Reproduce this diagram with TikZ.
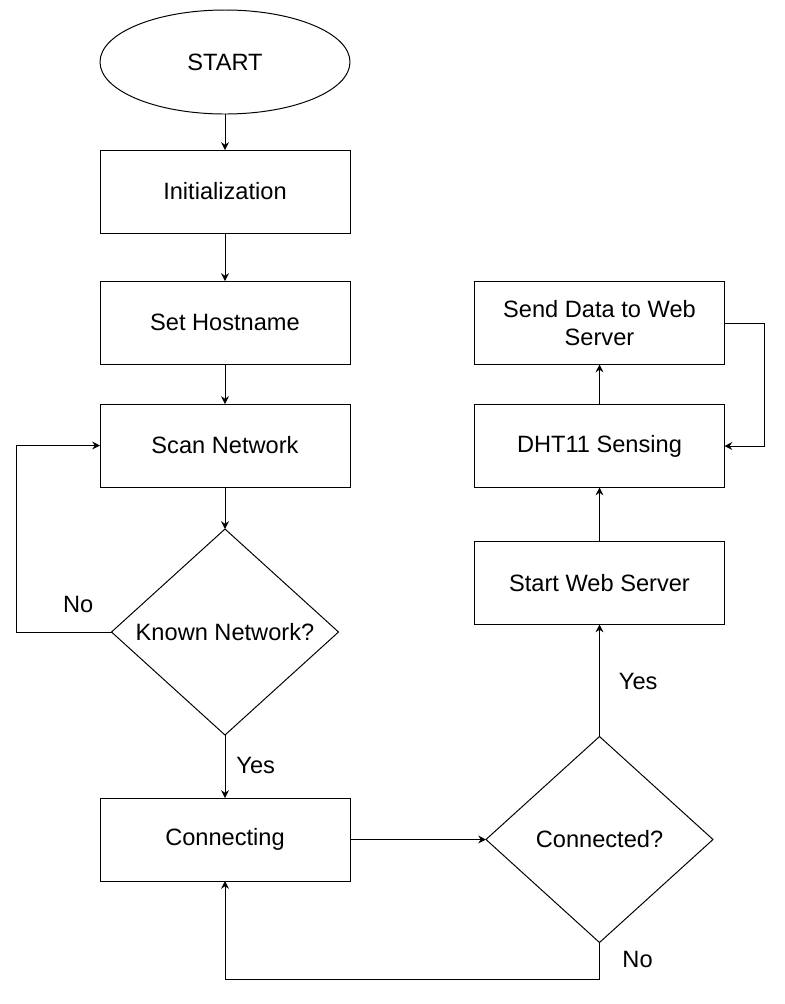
\documentclass[tikz,border=0pt]{standalone}
\usepackage{fontspec}
\setmainfont{Liberation Sans}
\usetikzlibrary{arrows.meta}
\usetikzlibrary{positioning}
\usetikzlibrary{shapes.geometric}

\begin{document}
\begin{tikzpicture}
\useasboundingbox (0,0) rectangle (19.625,-25.1);
\begin{scope}[every node/.style={draw,line width=0.7pt,align=center,inner sep=0pt,outer sep=0pt,
                                 font=\fontsize{16.8pt}{20pt}\selectfont},
              box/.style={rectangle,minimum width=6.25cm,minimum height=2.075cm},
              decision/.style={diamond,minimum width=5.675cm,minimum height=5.15cm}]
    \node[ellipse,minimum width=6.25cm,minimum height=2.6cm] (start) at (5.625,-1.55) {START};
    \node[box,below=0.9 of {start}]      (init)      {Initialization};
    \node[box,below=1.2 of {init}]       (host)      {Set Hostname};
    \node[box,below=1.0 of {host}]       (scan)      {Scan Network};
    \node[decision,below=1.05 of {scan}] (known)     {Known Network?};
    \node[box,below=1.575 of {known}]    (connect)   {Connecting};
    \node[decision,right=3.4 of {connect}] (connected) {Connected?};
    \node[box,above=2.8 of {connected}]  (webserver) {Start Web Server};
    \node[box,above=1.35 of {webserver}] (dht)       {DHT11 Sensing};
    \node[box,above=1.0 of {dht}]        (send)      {Send Data to Web\\Server};
\end{scope}

\begin{scope}[>={Stealth[length=5.5pt,width=5.5pt]},
              line width=0.7pt,
              every node/.style={inner sep=0pt,font=\fontsize{16.8pt}{20pt}\selectfont},
              every edge/.style={draw,line width=0.7pt}]
    \path [->] (start)     edge (init);
    \path [->] (init)      edge (host);
    \path [->] (host)      edge (scan);
    \path [->] (scan)      edge (known);
    \path [->] (known)     edge node[pos=0.476,right=7.8pt] {Yes} (connect);
    \path [->] (connect)   edge (connected);
    \path [->] (connected) edge node[pos=0.49,right=13.5pt] {Yes} (webserver);
    \path [->] (webserver) edge (dht);
    \path [->] (dht)       edge (send);
    \draw [->] (known.west) -- node[pos=0.35,above=13.5pt] {No} ++(-2.375,0) |- (scan.west);
    \draw [->] (connected.south) -- node[pos=0.46,right=16pt] {No} ++(0,-0.925) -| (connect.south);
    \draw [->] (send.east) -- ++(1.0,0) |- (dht.east);
\end{scope}
\end{tikzpicture}
\end{document}
